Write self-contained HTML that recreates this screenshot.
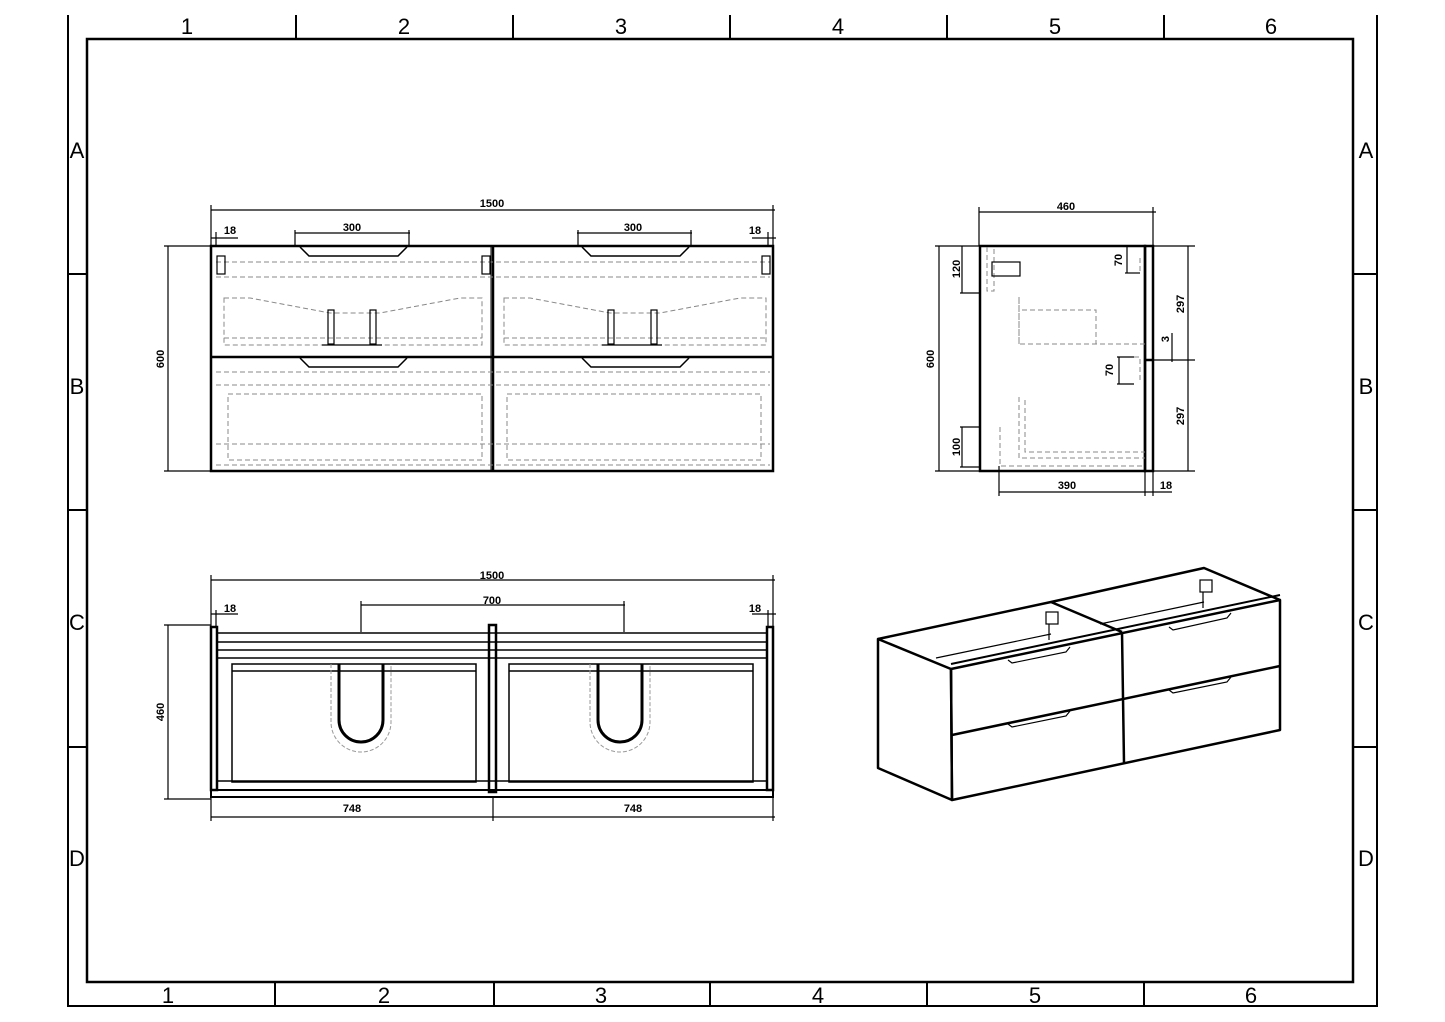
<!DOCTYPE html>
<html><head><meta charset="utf-8"><style>
html,body{margin:0;padding:0;background:#fff}
svg{display:block}
text{font-family:"Liberation Sans",sans-serif;fill:#000}
.t{font-size:22px}
.d{font-size:11px;font-weight:bold}
</style></head><body>
<svg width="1445" height="1022" viewBox="0 0 1445 1022" xmlns="http://www.w3.org/2000/svg">
<g stroke="#000" fill="none">
<!-- frame -->
<polyline points="68,15 68,1006 1377,1006 1377,15" stroke-width="2"/>
<rect x="87" y="39" width="1266" height="943" stroke-width="2.5"/>
<g stroke-width="2">
<line x1="296" y1="15" x2="296" y2="39"/><line x1="513" y1="15" x2="513" y2="39"/><line x1="730" y1="15" x2="730" y2="39"/><line x1="947" y1="15" x2="947" y2="39"/><line x1="1164" y1="15" x2="1164" y2="39"/>
<line x1="275" y1="982" x2="275" y2="1006"/><line x1="494" y1="982" x2="494" y2="1006"/><line x1="710" y1="982" x2="710" y2="1006"/><line x1="927" y1="982" x2="927" y2="1006"/><line x1="1144" y1="982" x2="1144" y2="1006"/>
<line x1="68" y1="274" x2="87" y2="274"/><line x1="68" y1="510" x2="87" y2="510"/><line x1="68" y1="747" x2="87" y2="747"/>
<line x1="1353" y1="274" x2="1377" y2="274"/><line x1="1353" y1="510" x2="1377" y2="510"/><line x1="1353" y1="747" x2="1377" y2="747"/>
</g>

<!-- FRONT VIEW -->
<g stroke-width="2.5">
<rect x="211" y="246" width="562" height="225"/>
<line x1="493" y1="246" x2="493" y2="471"/>
<line x1="211" y1="357" x2="773" y2="357"/>
</g>
<g stroke-width="1.5">
<path d="M300,247 L309,256 L398,256 L407,247"/><path d="M582,247 L591,256 L680,256 L689,247"/>
<path d="M300,358 L309,367 L398,367 L407,358"/><path d="M582,358 L591,367 L680,367 L689,358"/>
<line x1="491" y1="246" x2="491" y2="471" stroke-width="1"/>
</g>
<g stroke="#888" stroke-width="1" stroke-dasharray="5,3">
<line x1="216" y1="262" x2="770" y2="262"/><line x1="216" y1="277" x2="770" y2="277"/>
<path d="M224,298 L250,298 L330,313 L380,313 L460,298 L482,298 L482,345 L224,345 Z"/>
<path d="M504,298 L530,298 L610,313 L660,313 L740,298 L766,298 L766,345 L504,345 Z"/>
<line x1="224" y1="338" x2="482" y2="338"/><line x1="504" y1="338" x2="766" y2="338"/>
<line x1="216" y1="372" x2="770" y2="372"/><line x1="216" y1="385" x2="770" y2="385"/>
<rect x="228" y="394" width="254" height="66"/><rect x="507" y="394" width="254" height="66"/>
<line x1="216" y1="444" x2="770" y2="444"/><line x1="216" y1="465" x2="770" y2="465"/>
</g>
<g stroke-width="1.2">
<rect x="328" y="310" width="6" height="34"/><rect x="370" y="310" width="6" height="34"/>
<line x1="322" y1="345" x2="382" y2="345"/>
<rect x="608" y="310" width="6" height="34"/><rect x="651" y="310" width="6" height="34"/>
<line x1="602" y1="345" x2="662" y2="345"/>
<rect x="217" y="256" width="8" height="18"/><rect x="482" y="256" width="8" height="18"/><rect x="762" y="256" width="8" height="18"/>
</g>
<!-- front dims -->
<g stroke-width="1.2">
<line x1="211" y1="210" x2="775" y2="210"/><line x1="211" y1="205" x2="211" y2="246"/><line x1="773" y1="205" x2="773" y2="246"/>
<line x1="211" y1="238" x2="238" y2="238"/><line x1="216" y1="232" x2="216" y2="246"/>
<line x1="752" y1="238" x2="776" y2="238"/><line x1="768" y1="232" x2="768" y2="246"/>
<line x1="295" y1="233" x2="410" y2="233"/><line x1="295" y1="230" x2="295" y2="247"/><line x1="409" y1="230" x2="409" y2="247"/>
<line x1="577" y1="233" x2="692" y2="233"/><line x1="578" y1="230" x2="578" y2="247"/><line x1="691" y1="230" x2="691" y2="247"/>
<line x1="168" y1="246" x2="168" y2="471"/><line x1="164" y1="246" x2="211" y2="246"/><line x1="164" y1="471" x2="211" y2="471"/>
</g>

<!-- TOP VIEW -->
<g stroke-width="2.5">
<rect x="211" y="627" width="6" height="163"/><rect x="767" y="627" width="6" height="163"/>
<rect x="489" y="625" width="7" height="167"/>
<rect x="211" y="790" width="562" height="7" stroke-width="2"/>
</g>
<g stroke-width="1.5">
<line x1="217" y1="633" x2="767" y2="633"/><line x1="217" y1="642" x2="767" y2="642"/><line x1="217" y1="650" x2="767" y2="650"/><line x1="217" y1="658" x2="767" y2="658"/>
<rect x="232" y="664" width="244" height="118"/><rect x="509" y="664" width="244" height="118"/>
<line x1="232" y1="671" x2="476" y2="671"/><line x1="509" y1="671" x2="753" y2="671"/>
<line x1="217" y1="781" x2="767" y2="781"/>
</g>
<g stroke-width="3" fill="none">
<path d="M339,664 V720 A22,22 0 0 0 383,720 V664"/><path d="M598,664 V720 A22,22 0 0 0 642,720 V664"/>
</g>
<g stroke="#999" stroke-width="1" stroke-dasharray="4,2">
<path d="M331,664 V722 A30,30 0 0 0 391,722 V664"/><path d="M590,664 V722 A30,30 0 0 0 650,722 V664"/>
</g>
<g stroke-width="1.2">
<line x1="211" y1="580" x2="775" y2="580"/><line x1="211" y1="575" x2="211" y2="627"/><line x1="773" y1="575" x2="773" y2="627"/>
<line x1="211" y1="614" x2="238" y2="614"/><line x1="216" y1="610" x2="216" y2="627"/>
<line x1="752" y1="614" x2="776" y2="614"/><line x1="768" y1="610" x2="768" y2="627"/>
<line x1="361" y1="605" x2="625" y2="605"/><line x1="361" y1="601" x2="361" y2="632"/><line x1="624" y1="601" x2="624" y2="632"/>
<line x1="168" y1="625" x2="168" y2="799"/><line x1="164" y1="625" x2="211" y2="625"/><line x1="164" y1="799" x2="211" y2="799"/>
<line x1="211" y1="817" x2="775" y2="817"/><line x1="211" y1="797" x2="211" y2="821"/><line x1="493" y1="797" x2="493" y2="821"/><line x1="773" y1="797" x2="773" y2="821"/>
</g>

<!-- SIDE VIEW -->
<g stroke-width="2.5">
<rect x="980" y="246" width="165" height="225"/>
<rect x="1145" y="246" width="8" height="225"/>
<line x1="1145" y1="360" x2="1153" y2="360"/>
</g>
<g stroke="#888" stroke-width="1" stroke-dasharray="5,3">
<path d="M987,247 V291 H994 V247"/>
<path d="M1019,297 V344 H1145 M1022,310 H1096 V344 M1019,344 V297"/>
<path d="M1019,397 V458 H1145 M1025,400 V452 H1145"/>
<path d="M1000,427 V466 H1145"/>
<path d="M1140,258 V272 M1134,357 H1140 V382"/>
</g>
<g stroke-width="1.2">
<rect x="992" y="262" width="28" height="14"/>
<line x1="979" y1="212" x2="1156" y2="212"/><line x1="979" y1="207" x2="979" y2="246"/><line x1="1153" y1="207" x2="1153" y2="246"/>
<line x1="935" y1="246" x2="980" y2="246"/><line x1="935" y1="471" x2="980" y2="471"/><line x1="939" y1="246" x2="939" y2="471"/>
<line x1="962" y1="246" x2="962" y2="293"/><line x1="960" y1="293" x2="980" y2="293"/>
<line x1="962" y1="427" x2="962" y2="467"/><line x1="960" y1="427" x2="980" y2="427"/><line x1="960" y1="467" x2="980" y2="467"/>
<line x1="1125" y1="246" x2="1145" y2="246"/><line x1="1125" y1="273" x2="1140" y2="273"/><line x1="1127" y1="246" x2="1127" y2="273"/>
<line x1="1117" y1="357" x2="1134" y2="357"/><line x1="1117" y1="384" x2="1134" y2="384"/><line x1="1119" y1="357" x2="1119" y2="384"/>
<line x1="1153" y1="246" x2="1195" y2="246"/><line x1="1153" y1="360" x2="1195" y2="360"/><line x1="1153" y1="471" x2="1195" y2="471"/>
<line x1="1188" y1="246" x2="1188" y2="471"/><line x1="1172" y1="333" x2="1172" y2="362"/>
<line x1="999" y1="492" x2="1172" y2="492"/><line x1="999" y1="466" x2="999" y2="496"/><line x1="1145" y1="471" x2="1145" y2="496"/><line x1="1153" y1="471" x2="1153" y2="496"/>
</g>

<!-- ISO -->
<g stroke-width="2.5" stroke-linejoin="round">
<polygon points="878,639 951,669 952,800 878,768"/>
<polygon points="951,669 1280,600 1280,730 952,800"/>
<polyline points="878,639 1051,602 1204,568 1280,600"/>
<line x1="1051" y1="602" x2="1122" y2="632"/>
<line x1="1122" y1="632" x2="1124" y2="763"/>
<line x1="952" y1="735" x2="1280" y2="666"/>
<line x1="951" y1="664" x2="1280" y2="595" stroke-width="2"/>
</g>
<g stroke-width="1.2">
<line x1="936" y1="658" x2="1051" y2="634"/><line x1="1100" y1="624" x2="1204" y2="602"/>
<path d="M1008,660 L1012,663 L1066,652 L1070,647"/><path d="M1008,724 L1012,727 L1066,716 L1070,711"/>
<path d="M1169,627 L1173,630 L1227,618 L1231,613"/><path d="M1169,690 L1173,693 L1227,682 L1231,677"/>
<rect x="1046" y="612" width="12" height="12"/><rect x="1200" y="580" width="12" height="12"/>
<line x1="1049" y1="624" x2="1049" y2="640"/><line x1="1203" y1="592" x2="1203" y2="608"/>
</g>
</g>

<!-- labels -->
<g class="t" text-anchor="middle">
<text x="187" y="34">1</text><text x="404" y="34">2</text><text x="621" y="34">3</text><text x="838" y="34">4</text><text x="1055" y="34">5</text><text x="1271" y="34">6</text>
<text x="168" y="1003">1</text><text x="384" y="1003">2</text><text x="601" y="1003">3</text><text x="818" y="1003">4</text><text x="1035" y="1003">5</text><text x="1251" y="1003">6</text>
<text x="77" y="158">A</text><text x="77" y="394">B</text><text x="77" y="630">C</text><text x="77" y="866">D</text>
<text x="1366" y="158">A</text><text x="1366" y="394">B</text><text x="1366" y="630">C</text><text x="1366" y="866">D</text>
</g>
<g class="d" text-anchor="middle">
<text x="492" y="207">1500</text><text x="230" y="234">18</text><text x="755" y="234">18</text>
<text x="352" y="231">300</text><text x="633" y="231">300</text>
<text x="492" y="579">1500</text><text x="230" y="612">18</text><text x="755" y="612">18</text><text x="492" y="604">700</text>
<text x="352" y="812">748</text><text x="633" y="812">748</text>
<text x="1066" y="210">460</text><text x="1067" y="489">390</text><text x="1166" y="489">18</text>
<text transform="translate(164,359) rotate(-90)">600</text>
<text transform="translate(164,712) rotate(-90)">460</text>
<text transform="translate(934,359) rotate(-90)">600</text>
<text transform="translate(960,269) rotate(-90)">120</text>
<text transform="translate(960,447) rotate(-90)">100</text>
<text transform="translate(1122,260) rotate(-90)">70</text>
<text transform="translate(1113,370) rotate(-90)">70</text>
<text transform="translate(1184,304) rotate(-90)">297</text>
<text transform="translate(1184,416) rotate(-90)">297</text>
<text transform="translate(1169,339) rotate(-90)">3</text>
</g>
</svg>
</body></html>
